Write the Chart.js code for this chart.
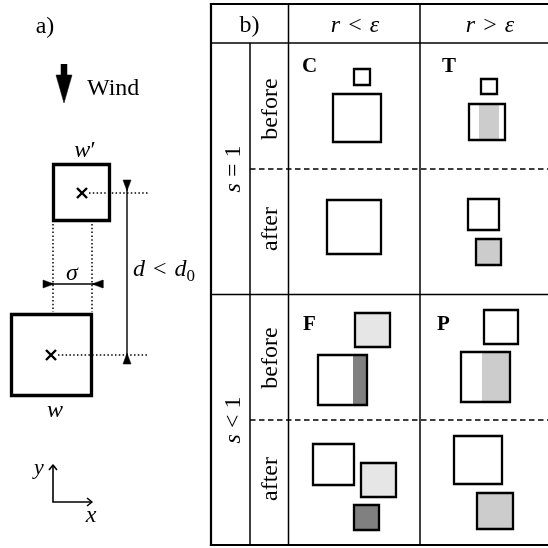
<!DOCTYPE html>
<html><head><meta charset="utf-8">
<script src="https://cdn.jsdelivr.net/npm/chart.js@4.4.0/dist/chart.umd.min.js"></script>
<style>html,body{margin:0;padding:0;background:#fff}#wrap{width:548px;height:548px;position:relative}</style>
</head><body><div id="wrap"><canvas id="c"></canvas></div>
<script>
// ---------- data (diagram coordinates, 0..548 both ways, y downward) ----------
// panel b table
const tableFrame  = [[211,4,548,4],[211,4,211,545],[211,545,548,545]];
const tableRules  = [[211,43,548,43],[211,294.5,548,294.5],[250,43,250,545],[288.5,4,288.5,545],[420,4,420,545]];
const tableDashed = [[250,169,548,169],[250,420,548,420]];
// panel b boxes: [x1,y1,x2,y2,shade]
const boxesB = [
  [354,69,370,85,'none'],[333,94,381,142,'none'],          // C before
  [481,79,497,94,'none'],[469,104,505,140,'none'],         // T before
  [327,200,381,254,'none'],                                // C after
  [468,199,499,230,'none'],[476,239,501,265,'mid'],        // T after
  [355,313,390,347,'light'],[318,355,367,405,'none'],      // F before
  [484,310,518,344,'none'],[461,352,510,402,'none'],       // P before
  [313,444,354,485,'none'],[361,463,396,497,'light'],[354,505,379,530,'dark'], // F after
  [454,436,502,484,'none'],[477,493,513,529,'mid']         // P after
];
// shaded parts inside boxes: [x1,y1,x2,y2,shade]
const stripsB = [[479,104,499,140,'mid'],[353,355,367,405,'dark'],[482,352,510,402,'mid']];
// panel a
const sitesA   = [[53.5,164.5,109.5,220.5],[11.5,314.5,91.5,395.5]];
const crossesA = [[82,193],[51,355]];
const guidesA  = [[89,193,148,193],[58,355,148,355],[53,224,53,312],[92,224,92,312]];
const dimsA    = [[127,180,127,364],[43,284,103,284]];
const windA    = [64,64,103];          // x, top, tip
const axisA    = [53,502,465,92];      // origin x, origin y, y-tip, x-tip
// text
const labels = [
  {runs:[['a)','r']], x:45, y:33, align:'center', size:24},
  {runs:[['Wind','r']], x:87, y:95, align:'left', size:24},
  {runs:[['w','i'],['\u2032','r']], x:85, y:157, align:'center', size:24},
  {runs:[['d','i'],[8,'gap'],['<','r'],[8,'gap'],['d','i'],['0','sub']], x:133, y:276, align:'left', size:24},
  {runs:[['\u03c3','i']], x:72, y:280, align:'center', size:24},
  {runs:[['w','i']], x:55, y:417, align:'center', size:24},
  {runs:[['y','i']], x:39, y:474, align:'center', size:22},
  {runs:[['x','i']], x:91, y:522, align:'center', size:24},
  {runs:[['b)','r']], x:249.5, y:32, align:'center', size:24},
  {runs:[['r','i'],[8,'gap'],['<','r'],[8,'gap'],['\u03b5','i']], x:355, y:32, align:'center', size:24},
  {runs:[['r','i'],[8,'gap'],['>','r'],[8,'gap'],['\u03b5','i']], x:490, y:32, align:'center', size:24},
  {runs:[['C','b']], x:302, y:72, align:'left', size:21},
  {runs:[['T','b']], x:442, y:72, align:'left', size:21},
  {runs:[['F','b']], x:303, y:330, align:'left', size:21},
  {runs:[['P','b']], x:437, y:330, align:'left', size:21},
  {runs:[['before','r']], x:277, y:109, align:'center', size:24, rot:true},
  {runs:[['after','r']], x:277, y:229, align:'center', size:24, rot:true},
  {runs:[['before','r']], x:277, y:358, align:'center', size:24, rot:true},
  {runs:[['after','r']], x:277, y:479, align:'center', size:24, rot:true},
  {runs:[['s','i'],[6,'gap'],['=','r'],[6,'gap'],['1','r']], x:240, y:169, align:'center', size:24, rot:true},
  {runs:[['s','i'],[6,'gap'],['<','r'],[6,'gap'],['1','r']], x:240, y:420, align:'center', size:24, rot:true}
];

// ---------- styles ----------
const SHADE = {none:null, light:'#e6e6e6', mid:'#cccccc', dark:'#808080'};
const FONT = '"Liberation Serif", "DejaVu Serif", serif';

// ---------- dataset builders ----------
function ds(pts, o){
  return Object.assign({data: pts.map(p=>({x:p[0], y:p[1]})), borderColor:'#000', borderWidth:1.5,
    pointRadius:0, pointHoverRadius:0, fill:false, tension:0, order:2, borderJoinStyle:'miter',
    borderCapStyle:'butt', backgroundColor:'rgba(0,0,0,0)'}, o||{});
}
function rectPts(r){ return [[r[0],r[1]],[r[2],r[1]],[r[2],r[3]],[r[0],r[3]],[r[0],r[1]],[r[2],r[1]]]; }
function fillRect(r, color, order){
  return ds([[r[0],r[1]],[r[2],r[1]],[r[2],r[3]],[r[0],r[3]],[r[0],r[1]]], {fill:'shape', backgroundColor:color, borderWidth:0, borderColor:'rgba(0,0,0,0)', order:order});
}
function head(tip, dx, dy, len, half){ // filled triangle, tip at 'tip', pointing along (dx,dy)
  const bx = tip[0]-dx*len, by = tip[1]-dy*len, px = -dy*half, py = dx*half;
  return ds([[tip[0],tip[1]],[bx+px,by+py],[bx-px,by-py],[tip[0],tip[1]]], {fill:'shape', backgroundColor:'#000', borderWidth:0.5, order:1});
}

const datasets = [];
// table
tableFrame.forEach(l=>datasets.push(ds([[l[0],l[1]],[l[2],l[3]]], {borderWidth:2.2, borderCapStyle:'square'})));
tableRules.forEach(l=>datasets.push(ds([[l[0],l[1]],[l[2],l[3]]], {borderWidth:1.5})));
tableDashed.forEach(l=>datasets.push(ds([[l[0],l[1]],[l[2],l[3]]], {borderWidth:1.4, borderDash:[5.5,3.5]})));
// boxes
boxesB.forEach(b=>{ if (SHADE[b[4]]) datasets.push(fillRect(b, SHADE[b[4]], 6)); });
stripsB.forEach(s=>datasets.push(fillRect(s, SHADE[s[4]], 5)));
boxesB.forEach(b=>datasets.push(ds(rectPts(b), {borderWidth:2.3})));
// panel a
sitesA.forEach(b=>datasets.push(ds(rectPts(b), {borderWidth:3.3})));
crossesA.forEach(c=>{
  datasets.push(ds([[c[0]-5,c[1]-5],[c[0]+5,c[1]+5]], {borderWidth:2.4}));
  datasets.push(ds([[c[0]-5,c[1]+5],[c[0]+5,c[1]-5]], {borderWidth:2.4}));
});
guidesA.forEach(l=>datasets.push(ds([[l[0],l[1]],[l[2],l[3]]], {borderWidth:1.5, borderDash:[1.5,2.3]})));
dimsA.forEach(l=>{
  datasets.push(ds([[l[0],l[1]],[l[2],l[3]]], {borderWidth:1.4}));
  const L = Math.hypot(l[2]-l[0], l[3]-l[1]), ux=(l[2]-l[0])/L, uy=(l[3]-l[1])/L;
  datasets.push(head([l[0]+ux*11, l[1]+uy*11], ux, uy, 11, 4));
  datasets.push(head([l[2]-ux*11, l[3]-uy*11], -ux, -uy, 11, 4));
});
// wind arrow
datasets.push(ds([[windA[0],windA[1]],[windA[0],windA[1]+13]], {borderWidth:6.5}));
datasets.push(head([windA[0],windA[2]], 0, 1, 28, 8));
// axis icon
datasets.push(ds([[axisA[0],axisA[2]],[axisA[0],axisA[1]],[axisA[3],axisA[1]]], {borderWidth:1.6}));
datasets.push(ds([[axisA[0]-4,axisA[2]+5],[axisA[0],axisA[2]],[axisA[0]+4,axisA[2]+5]], {borderWidth:1.6, borderJoinStyle:'round'}));
datasets.push(ds([[axisA[3]-5,axisA[1]-4],[axisA[3],axisA[1]],[axisA[3]-5,axisA[1]+4]], {borderWidth:1.6, borderJoinStyle:'round'}));

// ---------- text plugin ----------
function runFont(kind, size){
  if (kind==='i') return 'italic '+size+'px '+FONT;
  if (kind==='b') return 'bold '+size+'px '+FONT;
  if (kind==='sub') return Math.round(size*0.7)+'px '+FONT;
  return size+'px '+FONT;
}
const textPlugin = {
  id:'texts',
  afterDatasetsDraw(chart){
    const ctx = chart.ctx, sx = chart.scales.x, sy = chart.scales.y;
    ctx.save();
    ctx.fillStyle = '#000';
    ctx.textBaseline = 'alphabetic';
    ctx.textAlign = 'left';
    labels.forEach(lb=>{
      let w = 0;
      lb.runs.forEach(r=>{ if (r[1]==='gap') w += r[0]; else { ctx.font = runFont(r[1], lb.size); w += ctx.measureText(r[0]).width; } });
      const px = sx.getPixelForValue(lb.x), py = sy.getPixelForValue(lb.y);
      ctx.save();
      ctx.translate(px, py);
      if (lb.rot) ctx.rotate(-Math.PI/2);
      let cx = lb.align==='center' ? -w/2 : 0;
      lb.runs.forEach(r=>{
        if (r[1]==='gap') { cx += r[0]; return; }
        ctx.font = runFont(r[1], lb.size);
        ctx.fillText(r[0], cx, r[1]==='sub' ? lb.size*0.2 : 0);
        cx += ctx.measureText(r[0]).width;
      });
      ctx.restore();
    });
    ctx.restore();
  }
};

new Chart(document.getElementById('c'), {
  type:'line',
  data:{datasets},
  options:{
    animation:false, responsive:true, maintainAspectRatio:false,
    layout:{padding:0},
    events:[],
    plugins:{legend:{display:false}, tooltip:{enabled:false}},
    scales:{
      x:{type:'linear', min:0, max:548, display:false},
      y:{type:'linear', min:0, max:548, reverse:true, display:false}
    }
  },
  plugins:[textPlugin]
});
</script></body></html>
